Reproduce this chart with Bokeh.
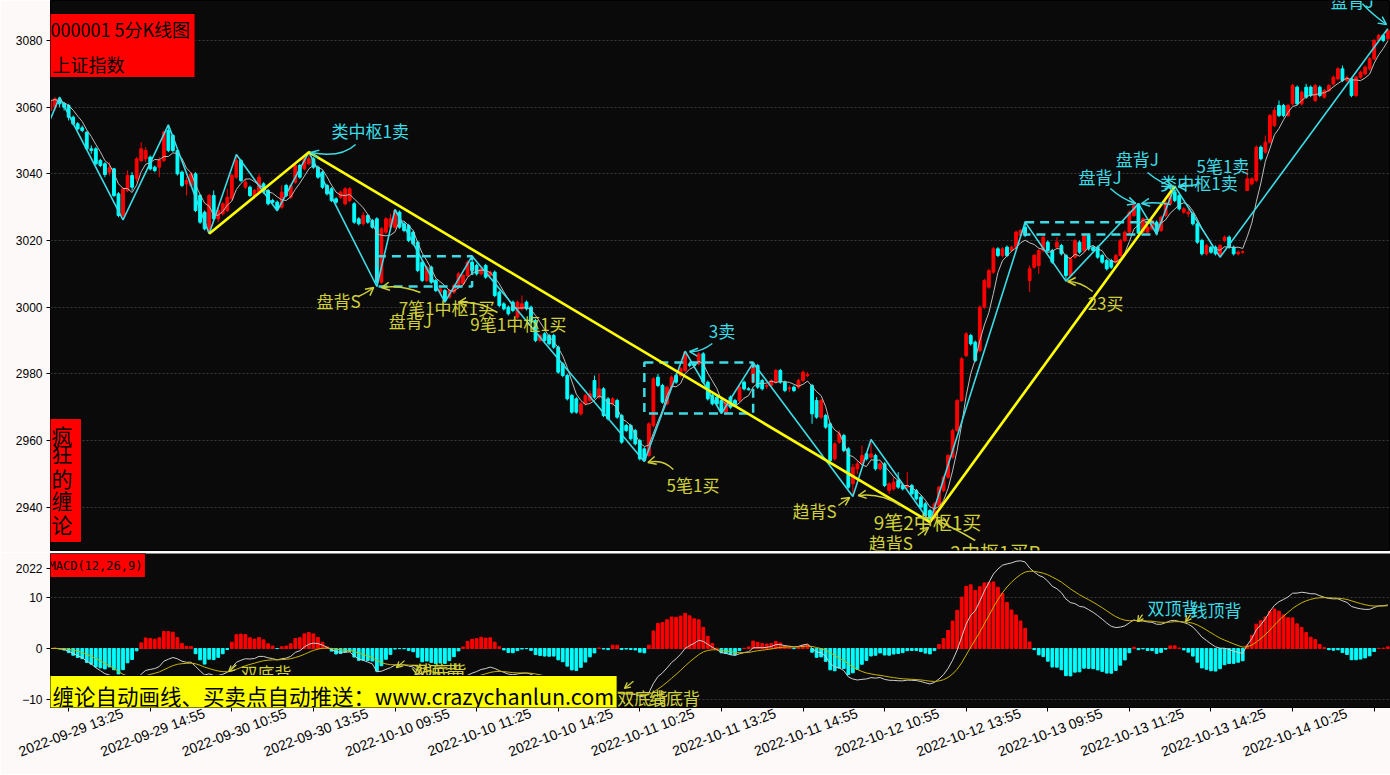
import numpy as np
import pandas as pd
from bokeh.plotting import figure
from bokeh.layouts import column
from bokeh.models import (ColumnDataSource, Range1d, FixedTicker, Label, Arrow, OpenHead, LinearAxis)
from bokeh.core.properties import value
from bokeh.embed import file_html
from bokeh.resources import INLINE

# ---------------- data: 5-minute bars (open, high, low, close) ----------------
day_0929 = [
    (3059, 3063, 3053.5, 3062), (3060, 3063, 3059, 3062.5), (3062.5, 3063, 3060, 3061), (3061, 3061.5, 3059, 3060),
    (3060.5, 3061, 3056, 3057), (3057, 3057.5, 3054.5, 3055), (3055, 3055.5, 3053, 3053.5), (3053.8, 3054.5, 3052.5, 3053),
    (3052.5, 3052.8, 3047, 3047.5), (3047.5, 3048.5, 3046, 3047), (3047.5, 3048, 3042.5, 3043), (3044, 3044.5, 3042, 3042.5),
    (3043, 3043.5, 3039, 3039.8), (3040.5, 3043.5, 3039.5, 3041.8), (3041.5, 3041.8, 3033, 3033.5), (3034, 3034.5, 3027, 3027.5),
    (3027.5, 3036, 3026.2, 3035.5), (3035, 3041, 3034.5, 3039.5), (3039.5, 3040.5, 3035, 3036), (3038.5, 3045, 3037.5, 3044.5),
    (3044, 3049.5, 3043.5, 3047.5), (3044.5, 3048, 3043.5, 3047), (3045, 3045.5, 3041, 3041.5), (3042, 3042.5, 3040.5, 3041),
]
day_0930 = [
    (3042, 3045, 3039, 3044), (3044, 3053, 3043.5, 3052.5), (3053, 3054.7, 3046.5, 3047), (3051.5, 3052, 3046.5, 3047),
    (3047, 3047.5, 3039.5, 3040), (3040.5, 3041, 3036, 3036.5), (3037, 3039, 3033.5, 3038), (3036.5, 3040.5, 3036, 3040),
    (3040, 3040.5, 3028.5, 3029), (3033.5, 3034, 3025, 3025.5), (3028.5, 3029, 3023, 3023.5), (3022.5, 3034, 3022, 3033.5),
    (3033.5, 3035, 3026, 3026.5), (3026.5, 3030, 3025.5, 3029), (3028, 3031.5, 3027.5, 3031), (3029, 3035.5, 3028.5, 3033),
    (3032.5, 3040, 3032, 3039.5), (3039, 3045.8, 3038.5, 3044), (3044, 3044.5, 3037.5, 3038), (3036, 3038.5, 3035.5, 3037.5),
    (3036, 3036.5, 3033, 3033.5), (3033.5, 3035.5, 3032.5, 3035), (3034.5, 3040, 3034, 3039), (3037, 3037.5, 3034, 3034.5),
    (3035, 3035.5, 3030.5, 3031), (3032, 3032.5, 3031, 3031.5), (3031.5, 3032, 3028.9, 3029.5), (3030, 3036.5, 3029.5, 3034.5),
    (3036.5, 3037, 3033, 3033.5), (3033, 3037, 3032.5, 3036.5), (3037.5, 3043.5, 3037, 3042.5), (3042.5, 3043, 3038.5, 3039),
    (3041.5, 3045.5, 3041, 3045), (3043, 3046.5, 3042.5, 3044.5), (3044.5, 3045, 3041.5, 3042), (3042, 3042.5, 3038.5, 3039),
    (3040.5, 3041, 3035.5, 3036), (3036.5, 3037, 3033.5, 3034), (3035.5, 3036, 3031.5, 3032), (3032.5, 3033, 3031, 3031.5),
    (3033, 3035, 3032.5, 3034.5), (3031, 3036, 3030.5, 3035.5), (3032, 3036, 3031.5, 3035.5), (3031, 3031.5, 3025, 3025.5),
    (3026.5, 3027, 3024.5, 3025), (3025, 3028.5, 3024.5, 3027.5), (3027.5, 3028, 3025, 3025.5), (3026, 3026.5, 3023.5, 3024),
]
day_1010 = [
    (3026.5, 3027, 3006.2, 3007.5), (3007.5, 3024, 3007, 3023.5), (3022.5, 3027, 3022, 3026.5), (3024, 3028, 3023.5, 3026.5),
    (3024, 3029.3, 3023.5, 3029), (3028.5, 3029, 3023.5, 3024), (3025, 3025.5, 3022.5, 3023), (3024.5, 3025, 3019.5, 3020),
    (3022.5, 3023, 3018.5, 3019), (3019.5, 3020, 3010.5, 3011), (3013.5, 3014, 3007.5, 3008), (3008, 3012.5, 3007.5, 3012),
    (3012, 3012.5, 3007, 3007.5), (3008, 3008.5, 3004.5, 3005), (3004.5, 3006, 3003.5, 3005.5), (3005, 3005.5, 3001.5, 3002),
    (3003, 3005.5, 3002.5, 3005), (3004.5, 3007, 3004, 3006.5), (3006, 3010.5, 3005.5, 3010), (3007, 3010, 3006.5, 3009.5),
    (3009.5, 3014, 3009, 3013.5), (3013.5, 3015.3, 3010.5, 3011), (3012.5, 3013, 3009.5, 3010), (3010, 3012, 3009.5, 3011.5),
    (3012.5, 3013, 3008.5, 3009), (3009.5, 3011, 3009, 3010.5), (3010.5, 3011, 3003, 3003.5), (3004.5, 3005, 3000, 3000.5),
    (3001, 3001.5, 2999, 2999.5), (3000, 3000.5, 2997.5, 2998), (3001.5, 3002, 2998.5, 2999), (2997, 3002, 2996.5, 3001.5),
    (2999.5, 3003.5, 2999, 3001), (3001.5, 3002, 2999, 2999.5), (3000, 3000.5, 2995, 2995.5), (2996, 2996.5, 2989.5, 2990),
    (2990, 2992, 2989.5, 2991.5), (2992, 2992.5, 2989.5, 2990), (2991.5, 2992, 2988.5, 2989), (2991.5, 2992, 2987.5, 2988),
    (2988, 2988.5, 2980, 2980.5), (2983, 2983.5, 2979, 2979.5), (2979.5, 2980, 2972, 2972.5), (2973.5, 2974, 2968, 2968.5),
    (2972.5, 2973, 2968, 2968.5), (2968, 2971.5, 2967.5, 2971), (2971, 2974, 2970.5, 2973.5), (2972, 2975, 2971.5, 2974),
]
day_1011 = [
    (2978, 2979.5, 2972.5, 2973), (2973, 2980, 2972.5, 2975.5), (2975.5, 2976, 2967, 2967.5), (2972.5, 2973, 2966, 2966.5),
    (2971, 2973, 2970.5, 2972.5), (2972, 2972.5, 2966.5, 2967), (2967.5, 2968, 2959, 2959.5), (2964.5, 2965, 2962.5, 2963),
    (2964.5, 2965, 2960, 2960.5), (2963, 2963.5, 2958.5, 2959), (2960, 2960.5, 2954, 2954.5), (2957.5, 2958, 2953.7, 2954),
    (2955.5, 2965.5, 2955, 2965), (2964.5, 2979, 2964, 2978.5), (2979, 2980, 2976, 2976.5), (2976.5, 2977, 2971, 2971.5),
    (2971, 2976.5, 2970.5, 2976), (2976, 2979.5, 2975.5, 2979), (2979.5, 2980, 2977, 2977.5), (2979.5, 2982, 2979, 2981.5),
    (2981, 2986.8, 2980.5, 2986.5), (2983, 2983.5, 2982, 2982.5), (2983, 2983.5, 2982, 2982.5), (2983, 2986.5, 2982.5, 2986),
    (2986, 2986.5, 2977, 2977.5), (2977.5, 2978, 2972, 2972.5), (2973.5, 2974, 2970.5, 2971), (2973, 2973.5, 2970.5, 2971),
    (2972, 2972.5, 2968.1, 2968.5), (2968.5, 2972, 2968.2, 2971.5), (2973, 2973.5, 2969.5, 2970), (2972, 2972.5, 2970, 2970.5),
    (2972, 2976.5, 2971.5, 2976), (2977.5, 2978, 2975, 2975.5), (2975.5, 2976, 2975, 2975.2), (2977.5, 2983.3, 2977, 2983),
    (2982.5, 2983, 2975.5, 2976), (2978, 2978.5, 2975, 2975.5), (2976.3, 2977, 2975.5, 2976.5), (2976.5, 2978.5, 2976, 2978),
    (2977.5, 2981.5, 2977, 2981), (2981, 2981.5, 2977, 2977.5), (2977.5, 2978, 2974.5, 2975), (2975.5, 2976.5, 2974.5, 2975.8),
    (2976, 2976.5, 2974.5, 2975), (2976, 2978.5, 2975.5, 2978), (2978, 2981, 2977.5, 2980.5), (2979.5, 2980.5, 2979, 2979.8),
]
day_1012 = [
    (2976.5, 2977, 2965, 2968), (2972, 2973, 2966.5, 2967), (2967, 2972.5, 2966.5, 2972), (2967.5, 2968, 2963.5, 2964),
    (2965, 2965.5, 2953.5, 2954), (2954.5, 2959.5, 2954, 2959), (2959.5, 2963, 2959, 2962), (2961.5, 2962, 2956.5, 2957),
    (2957.5, 2958, 2945.5, 2946), (2947, 2953, 2943.2, 2952), (2951.5, 2954, 2950, 2953), (2953, 2958.5, 2952.5, 2955.5),
    (2956, 2956.5, 2954, 2954.5), (2955, 2960.3, 2954.5, 2956), (2955.5, 2956, 2951, 2951.5), (2951.5, 2953.5, 2951, 2953),
    (2953, 2953.5, 2946, 2946.5), (2945, 2947.5, 2944, 2947), (2945.5, 2949, 2945, 2947.5), (2948, 2950.5, 2945.5, 2946),
    (2946.5, 2947, 2945, 2945.5), (2946, 2950.5, 2945.5, 2946.5), (2946.5, 2947, 2943.5, 2944), (2945, 2945.5, 2942, 2942.5),
    (2943, 2943.5, 2939.5, 2940), (2941, 2941.5, 2937, 2937.5), (2939, 2939.5, 2935.5, 2936.5), (2937, 2941.5, 2936, 2941),
    (2940.5, 2946.5, 2940, 2946), (2945, 2949.5, 2944.5, 2949), (2949, 2956, 2948.5, 2955.5), (2955, 2963.5, 2954.5, 2963),
    (2963, 2972.5, 2962.5, 2972), (2972, 2985, 2971.5, 2984.5), (2985.5, 2992.5, 2985, 2992), (2991.5, 2992, 2988.5, 2989),
    (2989.5, 2990, 2983.5, 2984), (2987, 3000.5, 2986.5, 3000), (3000, 3008.5, 2999.5, 3008), (3006, 3011.5, 3005.5, 3011),
    (3010.5, 3018, 3010, 3017.5), (3017.5, 3018, 3015, 3015.5), (3015.5, 3018, 3015, 3017.5), (3018, 3018.5, 3015, 3015.5),
    (3017, 3018.5, 3016.5, 3018), (3018, 3023, 3017.5, 3022.5), (3021.5, 3023.5, 3021, 3023), (3024, 3025.5, 3021, 3021.5),
]
day_1013 = [
    (3008, 3012.5, 3004.5, 3011.5), (3012, 3016, 3011.5, 3015.5), (3012.5, 3017.5, 3010, 3017), (3017, 3021.5, 3016.5, 3021),
    (3019.5, 3020, 3016.5, 3017), (3017, 3017.5, 3013, 3013.5), (3018, 3021, 3017.5, 3019.5), (3018.5, 3019, 3015.5, 3016),
    (3015.5, 3016, 3007.8, 3009.5), (3009.5, 3015, 3009, 3014.5), (3015, 3020.5, 3014.5, 3020), (3019.5, 3020, 3016, 3016.5),
    (3017, 3022, 3016.5, 3021.5), (3021.5, 3022, 3017, 3017.5), (3018, 3018.5, 3016.5, 3017), (3018, 3018.5, 3014.5, 3015),
    (3015.5, 3016, 3013, 3013.5), (3014, 3014.5, 3011, 3011.5), (3014, 3014.5, 3011.5, 3012), (3013.5, 3016, 3013, 3015.5),
    (3015.5, 3020.5, 3015, 3020), (3020, 3023, 3019.5, 3022.5), (3022.5, 3029, 3022, 3028.5), (3027.5, 3030.8, 3027, 3030.5),
    (3031, 3031, 3022, 3022.2), (3022.5, 3027, 3022.2, 3026.5), (3022.5, 3024.5, 3022.2, 3024), (3023.5, 3026.5, 3023, 3026),
    (3025.5, 3026, 3022, 3022.5), (3023, 3027.5, 3022.5, 3027), (3027.5, 3032, 3027, 3031.5), (3031, 3034.5, 3030.5, 3034),
    (3034.5, 3036.3, 3031.5, 3032), (3033.5, 3034, 3029, 3029.5), (3028.5, 3030, 3028, 3029.5), (3028, 3029.5, 3027, 3028.5),
    (3028, 3028.5, 3024.5, 3025), (3025, 3025.5, 3019, 3019.5), (3020, 3020.5, 3015.5, 3016), (3016, 3019, 3015.5, 3018.5),
    (3018, 3018.5, 3016, 3016.5), (3018, 3018.5, 3015.5, 3016), (3015.5, 3019, 3015, 3018.5), (3020, 3021.5, 3019.5, 3021),
    (3021, 3021.5, 3017.5, 3018), (3018, 3018.5, 3015.5, 3016), (3016, 3017, 3015.5, 3016.5), (3016.5, 3017, 3016, 3016.6),
]
day_1014 = [
    (3035, 3041.5, 3035, 3038.5), (3037, 3039, 3036.5, 3038.5), (3038, 3048.5, 3037.5, 3048), (3048, 3048.5, 3044, 3044.5),
    (3046.5, 3051.5, 3046, 3049.5), (3049.5, 3058, 3049, 3057.5), (3054.5, 3060, 3054, 3059), (3060.5, 3062, 3057, 3057.5),
    (3060.5, 3061, 3057, 3057.5), (3057.5, 3061, 3057, 3060.5), (3061, 3067, 3060.5, 3066.5), (3066, 3066.5, 3060.5, 3061),
    (3061, 3065, 3060.5, 3064.5), (3066, 3067, 3062.5, 3063), (3066, 3066.5, 3063, 3063.5), (3062, 3067, 3061.5, 3066.5),
    (3066, 3066.5, 3063, 3063.5), (3063, 3065.5, 3062.5, 3065), (3065, 3067, 3064.5, 3066.5), (3067, 3069.5, 3066.5, 3069),
    (3068.5, 3072, 3068, 3071.5), (3071.5, 3072.5, 3067.5, 3068), (3068, 3069.5, 3067.5, 3068.8), (3068.5, 3069, 3063, 3063.5),
    (3063.5, 3069.5, 3063, 3069), (3069, 3071, 3068.5, 3070.5), (3070, 3072.5, 3069.5, 3072), (3071.5, 3075, 3071, 3074.5),
    (3074.5, 3080.5, 3074, 3080), (3080, 3082, 3079.5, 3081.5), (3081.5, 3082, 3079.5, 3080), (3080.5, 3083.5, 3080, 3083),
]

tick_labels = [
    "2022-09-29 13:25", "2022-09-29 14:55", "2022-09-30 10:55", "2022-09-30 13:55",
    "2022-10-10 09:55", "2022-10-10 11:25", "2022-10-10 14:25", "2022-10-11 10:25",
    "2022-10-11 13:25", "2022-10-11 14:55", "2022-10-12 10:55", "2022-10-12 13:55",
    "2022-10-13 09:55", "2022-10-13 11:25", "2022-10-13 14:25", "2022-10-14 10:25",
    "2022-10-14 13:55",
]
tick_bars = [4, 22, 40, 58, 76, 94, 112, 130, 148, 166, 184, 202, 220, 238, 256, 274, 292]

# strokes (bi), segments and pivots (zhongshu)
bi_bar = [0, 2, 16, 26, 35, 41, 50, 57, 72, 76, 87, 93, 131, 140, 148, 155, 177, 181, 194, 215, 224, 240, 244, 248, 258, 295]
bi_price = [3056.5, 3063, 3026.2, 3054.7, 3022, 3045.8, 3028.9, 3046.5, 3006.2, 3029.3, 3001.5, 3015.3, 2953.7, 2986.8,
            2968.1, 2983.3, 2943.2, 2960.3, 2935.5, 3025.5, 3007.8, 3031, 3022, 3036.3, 3015, 3083.5]
seg_bar = [35, 57, 194, 248]
seg_price = [3022, 3046.5, 2935.5, 3036.3]
zs_left = [72, 131, 215]
zs_right = [93, 155, 244]
zs_top = [3015.3, 2983.4, 3025.5]
zs_bottom = [3006.2, 2968.1, 3021.8]

# signal annotations on the price panel
sig_text = ["类中枢1卖", "盘背S", "盘背J", "7笔1中枢1买", "9笔1中枢1买", "3卖", "5笔1买", "趋背S", "9笔2中枢1买",
            "趋背S", "2中枢1买B", "盘背J", "盘背J", "类中枢1卖", "5笔1卖", "23买", "盘背J"]
sig_bar = [62, 58.7, 74.6, 76.8, 92.6, 145.2, 135.9, 163.7, 181.6, 180.5, 198.5, 226.8, 235, 244.8, 252.8, 228.8, 282.4]
sig_price = [3053, 3002, 2996, 3000, 2995.1, 2993, 2946.8, 2939, 2935.7, 2929.4, 2926.7, 3039.2, 3044.6, 3037.4,
             3042.5, 3001.4, 3092]
sig_kind = ["s", "b", "b", "b", "b", "s", "b", "b", "b", "b", "b", "s", "s", "s", "s", "b", "s"]
sig_big = [0, 0, 0, 0, 0, 0, 0, 0, 1, 0, 1, 0, 0, 0, 0, 0, 0]

# arrows: tail, control, head (bar, price)
arr_x0 = [67.3, 67.9, 81.6, 98.6, 146, 137.4, 173.8, 187.5, 191.3, 204, 233.8, 247.1, 242, 253, 229.9, 289.4]
arr_y0 = [3048.8, 3003.2, 3004.4, 2998.4, 2989.1, 2951.3, 2940.5, 2940.5, 2931.5, 2930, 3035.6, 3030.8, 3040.4, 3036.8,
          3004.7, 3091]
arr_cx = [64, 70, 77.2, 94.4, 143.4, 135, 175, 183.1, 192.5, 199.6, 236.5, 243.8, 244.9, 251, 227.2, 291.6]
arr_cy = [3044.6, 3004.5, 3006.8, 3002, 2986.4, 2954.6, 2941.7, 2944.4, 2932.7, 2933.6, 3032.3, 3031.7, 3037.1, 3036.2,
          3007.7, 3087.8]
arr_x1 = [57.4, 71.3, 73, 90, 141, 131.8, 176.3, 178.2, 193.7, 195.5, 239.4, 240.7, 247.7, 248.8, 224.4, 294.7]
arr_y1 = [3046.4, 3005.9, 3005.9, 3001.4, 2986.7, 2953.4, 2942.9, 2943.5, 2933.9, 2936, 3031.1, 3031.1, 3036.2, 3036.2,
          3007.7, 3084.8]
arr_kind = ["s", "b", "b", "b", "s", "b", "b", "b", "b", "b", "s", "s", "s", "s", "b", "s"]

# MACD panel annotations
m_text = ["双底背", "双底背", "线底背", "双底背", "线底背", "双顶背", "线顶背"]
m_bar = [41.9, 79.4, 80.5, 125, 132, 242, 251.5]
m_val = [-4.75, -4.4, -4.4, -9.7, -9.7, 8.1, 7.7]
m_kind = ["b", "b", "b", "b", "b", "s", "s"]
m_ax0 = [41, 78.1, 123.1, 128.6, 240.9, 251.5]
m_ay0 = [-3.2, -2.4, -7.1, -6.5, 6.7, 6.7]
m_ax1 = [39.3, 76.3, 121.3, 126.6, 239.8, 250.4]
m_ay1 = [-4.6, -3.8, -8.3, -7.9, 5.3, 5.3]

# ---------------- derived series ----------------
bars = day_0929 + day_0930 + day_1010 + day_1011 + day_1012 + day_1013 + day_1014
opens = [b[0] for b in bars]
highs = [b[1] for b in bars]
lows = [b[2] for b in bars]
closes = [b[3] for b in bars]
n = len(bars)
xs = list(range(n))

close_s = pd.Series(closes, dtype=float)
ma5 = close_s.rolling(5, min_periods=1).mean()
ema12 = close_s.ewm(span=12, adjust=False).mean()
ema26 = close_s.ewm(span=26, adjust=False).mean()
dif = ema12 - ema26
dea = dif.ewm(span=9, adjust=False).mean()
hist = 2 * (dif - dea)

UP = "#ff0000"
DOWN = "#00ffff"
YEL_T = "#d0d03a"
CYA_T = "#3cdce6"
BI = "#3cdce6"
BG = "#0a0a0a"
PAGE = "#fdf9f8"
CJK = "Noto Sans CJK SC"
W = 1390
LEFT = 50

candle = ColumnDataSource(dict(
    x=xs, o=opens, h=highs, l=lows, c=closes,
    top=[max(o, c) for o, c in zip(opens, closes)],
    bottom=[min(o, c) for o, c in zip(opens, closes)],
    color=[UP if c >= o else DOWN for o, c in zip(opens, closes)],
))

# ---------------- price panel ----------------
p1 = figure(width=W, height=552, x_range=Range1d(0, 295.6), y_range=Range1d(2927, 3092),
            output_backend="svg", toolbar_location=None, title=None,
            min_border_left=LEFT, min_border_right=0, min_border_top=0, min_border_bottom=2,
            background_fill_color=BG, border_fill_color=PAGE, outline_line_color="black")
p1.xaxis.visible = False
p1.xgrid.visible = False
p1.ygrid.grid_line_color = "#3a3a3a"
p1.ygrid.grid_line_dash = "2 2"
p1.yaxis.ticker = FixedTicker(ticks=[2940, 2960, 2980, 3000, 3020, 3040, 3060, 3080])
p1.yaxis.minor_tick_line_color = None
p1.yaxis.major_tick_out = 4
p1.yaxis.major_tick_in = 0
p1.yaxis.major_label_text_font = "Liberation Sans"
p1.yaxis.major_label_text_font_size = "12px"
p1.yaxis.major_label_text_color = "black"
p1.yaxis.major_label_standoff = 4
p1.yaxis.axis_line_color = "black"

p1.segment(x0="x", y0="l", x1="x", y1="h", line_color="color", line_width=1, source=candle)
p1.vbar(x="x", top="top", bottom="bottom", width=0.62, fill_color="color", line_color="color", source=candle)
p1.line(xs, list(ma5), line_color="#bdbdbd", line_width=1)

p1.quad(left=zs_left, right=zs_right, top=zs_top, bottom=zs_bottom, fill_alpha=0,
        line_color=BI, line_width=2.5, line_dash="9 6")
p1.line(bi_bar, bi_price, line_color=BI, line_width=1.6)
p1.line(seg_bar, seg_price, line_color="#ffff00", line_width=2.6)

arr_src = ColumnDataSource(dict(x0=arr_x0, y0=arr_y0, cx=arr_cx, cy=arr_cy, x1=arr_x1, y1=arr_y1,
                                color=[CYA_T if k == "s" else YEL_T for k in arr_kind]))
p1.quadratic(x0="x0", y0="y0", x1="x1", y1="y1", cx="cx", cy="cy", line_color="color",
             line_width=1.5, source=arr_src)
for kind, colr in (("s", CYA_T), ("b", YEL_T)):
    sel = [i for i, k in enumerate(arr_kind) if k == kind]
    hs = ColumnDataSource(dict(xs=[arr_cx[i] for i in sel], ys=[arr_cy[i] for i in sel],
                               xe=[arr_x1[i] for i in sel], ye=[arr_y1[i] for i in sel]))
    p1.add_layout(Arrow(end=OpenHead(size=8, line_color=colr, line_width=1.5), line_alpha=0,
                        x_start="xs", y_start="ys", x_end="xe", y_end="ye", source=hs))

for big, fsize in ((0, "17px"), (1, "19px")):
    sel = [i for i, b in enumerate(sig_big) if b == big]
    ssrc = ColumnDataSource(dict(x=[sig_bar[i] for i in sel], y=[sig_price[i] for i in sel],
                                 text=[sig_text[i] for i in sel],
                                 color=[CYA_T if sig_kind[i] == "s" else YEL_T for i in sel]))
    p1.text(x="x", y="y", text="text", text_color="color", text_font_size=fsize, text_font=value(CJK),
            text_align="left", text_baseline="middle", source=ssrc)

# ---------------- MACD panel ----------------
p2 = figure(width=W, height=222, x_range=p1.x_range, y_range=Range1d(-11.68, 18.81),
            output_backend="svg", toolbar_location=None, title=None,
            min_border_left=LEFT, min_border_right=0, min_border_top=1, min_border_bottom=67,
            background_fill_color=BG, border_fill_color=PAGE, outline_line_color=None)
p2.xgrid.visible = False
p2.ygrid.ticker = FixedTicker(ticks=[-10, 0, 10])
p2.ygrid.grid_line_color = "#3a3a3a"
p2.ygrid.grid_line_dash = "2 2"
p2.yaxis.ticker = FixedTicker(ticks=[-10, 0, 10, 15.8])
p2.yaxis.major_label_overrides = {15.8: "2022"}
p2.yaxis.minor_tick_line_color = None
p2.yaxis.major_tick_out = 4
p2.yaxis.major_tick_in = 0
p2.yaxis.major_label_text_font = "Liberation Sans"
p2.yaxis.major_label_text_font_size = "12px"
p2.yaxis.major_label_text_color = "black"
p2.yaxis.major_label_standoff = 4
p2.yaxis.axis_line_color = "black"
# tick marks on the shared bar axis
p2.xaxis.ticker = FixedTicker(ticks=tick_bars)
p2.xaxis.major_label_overrides = {t: "" for t in tick_bars}
p2.xaxis.major_label_standoff = 0
p2.xaxis.minor_tick_line_color = None
p2.xaxis.major_tick_out = 4
p2.xaxis.major_tick_in = 0
p2.xaxis.axis_line_color = "black"
# slanted date labels, centred under their ticks (label range offset by ~54px)
LABEL_SHIFT = 11.9
p2.extra_x_ranges = {"lbl": Range1d(0 - LABEL_SHIFT, 295.6 - LABEL_SHIFT)}
lbl_axis = LinearAxis(x_range_name="lbl", ticker=FixedTicker(ticks=tick_bars),
                      major_label_overrides={t: s for t, s in zip(tick_bars, tick_labels)},
                      major_label_orientation=0.365, major_label_text_font="Liberation Sans",
                      major_label_text_font_size="14px", major_label_text_color="black",
                      major_label_standoff=1, major_tick_out=0, major_tick_in=0,
                      minor_tick_line_color=None, major_tick_line_color=None, axis_line_color=None)
p2.add_layout(lbl_axis, "below")

macd_src = ColumnDataSource(dict(x=xs, h=list(hist), color=[UP if v >= 0 else DOWN for v in hist]))
p2.vbar(x="x", top="h", bottom=0, width=0.6, fill_color="color", line_color="color", source=macd_src)
p2.line(xs, list(dif), line_color="#cfcfcf", line_width=1)
p2.line(xs, list(dea), line_color="#c8b400", line_width=1)

m_src = ColumnDataSource(dict(x=m_bar, y=m_val, text=m_text,
                              color=[CYA_T if k == "s" else YEL_T for k in m_kind]))
p2.text(x="x", y="y", text="text", text_color="color", text_font_size="17px", text_font=value(CJK),
        text_align="left", text_baseline="middle", source=m_src)
ma_src = ColumnDataSource(dict(xs=m_ax0, ys=m_ay0, xe=m_ax1, ye=m_ay1))
p2.add_layout(Arrow(end=OpenHead(size=6, line_color=YEL_T, line_width=1.3), line_color=YEL_T, line_width=1.3,
                    x_start="xs", y_start="ys", x_end="xe", y_end="ye", source=ma_src))


# ---------------- boxed captions ----------------
def caption(fig, sx, sy, text, size, font, bg, pad):
    lab = Label(x=sx, y=sy, x_units="screen", y_units="screen", text=text, text_font=font,
                text_font_size=f"{size}px", text_color="black", text_align="left", text_baseline="top")
    if bg is not None:
        lab.background_fill_color = bg
        lab.border_line_color = "black"
        lab.border_line_width = 1
        try:
            lab.padding = pad
        except Exception:
            lab.padding = 4
    fig.add_layout(lab)
    return lab


caption(p1, -5, 537, "000001 5分K线图", 18, CJK, "#ff0000", dict(left=5, right=5, top=2, bottom=36))
caption(p1, 2, 500, "上证指数", 18, CJK, None, 0)
vert_chars = ["疯", "狂", "的", "缠", "论"]
vert_tops = [132, 112.5, 87.5, 65.5, 41.5]
caption(p1, -5, vert_tops[0], vert_chars[0], 21, CJK, "#ff0000", dict(left=6, right=9, top=1, bottom=93))
for ch, tp in zip(vert_chars[1:], vert_tops[1:]):
    caption(p1, 1, tp, ch, 21, CJK, None, 0)

caption(p2, -5, 154, "MACD(12,26,9)", 12, "DejaVu Sans Mono", "#ff0000", dict(left=3, right=3, top=5, bottom=5))
caption(p2, -5, 32, "缠论自动画线、买卖点自动推送：www.crazychanlun.com", 21.5, CJK, "#ffff00",
        dict(left=7, right=3, top=4, bottom=4))

layout = column(p1, p2, spacing=0)
open("out.html", "w").write(file_html(layout, INLINE))
